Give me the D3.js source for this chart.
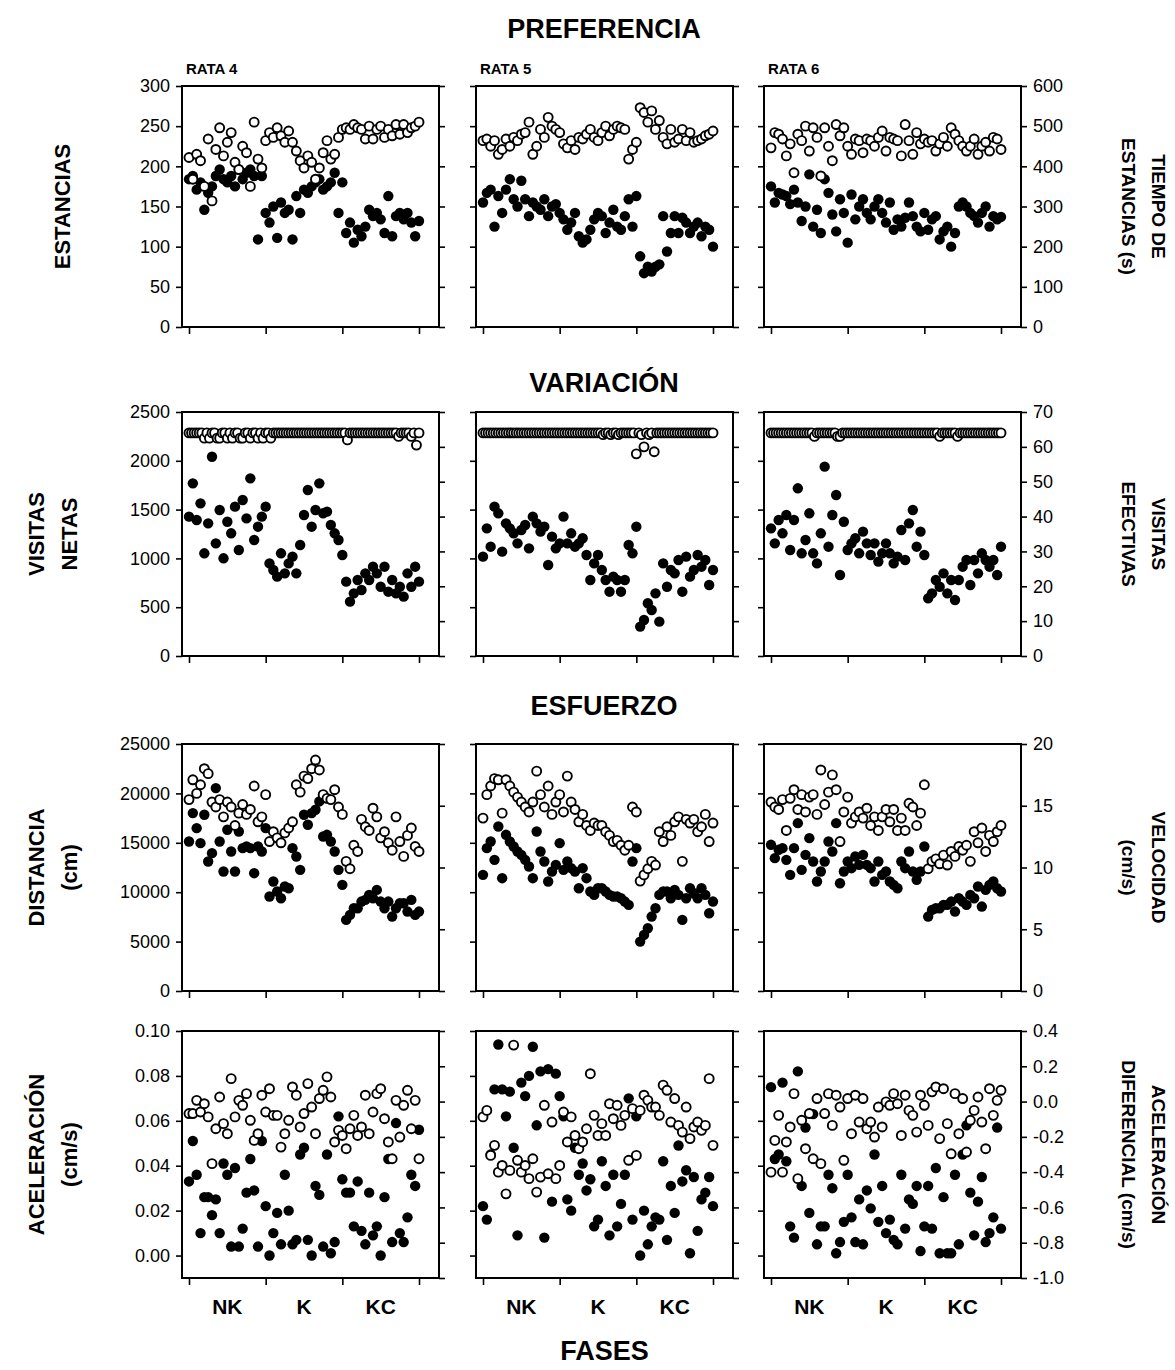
<!DOCTYPE html>
<html>
<head>
<meta charset="utf-8">
<script src="https://cdn.jsdelivr.net/npm/d3@7"></script>
<style>
  body { margin: 0; background: #fff; }
  svg { display: block; }
  text { font-family: Arial, "Liberation Sans", sans-serif; fill: #000; }
</style>
</head>
<body>
<svg id="chart" width="1175" height="1370"></svg>
<script>
// ---------- categories ----------
const ratas = ["RATA 4", "RATA 5", "RATA 6"];
const phases = ["NK", "K", "KC"];
const phaseCenters = [10, 30, 50];
const sessionTicks = [0, 20, 40, 60];

// ---------- PREFERENCIA ----------
// estancias (filled, left axis)
const estancias4 = [184,188,171,180,146,167,175,188,196,184,180,188,175,196,184,192,196,188,109,188,142,130,150,111,155,142,146,109,163,142,171,167,175,180,184,171,175,180,192,142,180,117,130,105,121,113,125,146,138,142,134,117,163,113,138,142,134,142,130,113,132];
const estancias5 = [155,167,171,125,163,142,171,184,159,150,182,159,138,155,150,146,159,138,150,153,142,134,121,130,142,113,105,109,121,134,142,138,117,130,146,125,121,138,159,125,163,88,67,75,69,75,78,138,94,117,138,117,136,130,117,125,130,113,125,121,100];
const estancias6 = [175,155,167,165,163,153,171,155,132,150,190,125,146,117,184,167,140,119,159,142,105,165,134,150,159,142,134,150,159,142,130,155,121,134,125,136,155,138,125,119,142,121,134,138,109,119,125,100,117,150,155,150,142,138,130,142,150,125,138,134,137];
// tiempo de estancias in s (open, right axis)
const tiempo4 = [422,368,430,414,350,468,314,442,496,426,460,484,410,392,450,434,350,510,418,396,464,484,472,496,476,460,488,460,438,414,396,426,410,368,396,434,464,418,430,472,492,496,492,504,496,492,468,500,468,492,500,472,492,476,504,480,504,484,496,500,510];
const tiempo5 = [464,468,450,464,430,442,468,450,472,464,480,484,510,430,450,492,472,522,500,492,484,456,446,464,442,472,468,480,492,472,464,484,500,476,492,500,496,492,418,442,460,546,534,510,538,492,514,472,456,492,460,468,492,464,484,460,464,468,476,480,488];
const tiempo6 = [446,484,480,468,426,456,384,480,464,500,438,496,472,376,496,450,414,504,476,496,450,430,468,464,434,468,464,450,472,488,438,472,468,464,426,504,464,430,484,456,468,460,464,438,456,472,450,496,480,464,450,438,450,468,430,450,460,438,472,468,442];

// ---------- VARIACIÓN ----------
// visitas netas (filled, left axis)
const visitasNetas4 = [1428,1769,1393,1564,1052,1359,2042,1154,1496,1001,1376,1257,1530,1086,1598,1410,1820,1189,1325,1428,1530,949,881,813,1052,847,949,1018,847,1137,1445,1701,1325,1496,1769,1462,1479,1342,1257,1189,1035,762,557,642,779,676,847,779,915,847,710,915,659,779,642,710,608,847,710,915,762];
const visitasNetas5 = [1018,1308,1120,1530,1462,1069,1359,1308,1257,1154,1291,1342,1103,1428,1359,1274,1325,932,1223,1103,1154,1428,1154,1257,1120,1154,1206,1035,779,949,1035,881,779,659,813,779,659,779,1137,1052,1325,301,369,540,471,642,352,949,710,881,847,984,659,1018,813,881,1035,915,984,727,881];
const visitasNetas6 = [1308,1154,1393,1257,1445,1086,1393,1718,1052,1189,1462,1052,949,1257,1940,1120,1445,1650,830,1376,1086,1154,1206,1052,1274,1154,1035,1154,967,1052,1154,1052,949,1018,1291,984,1359,1496,1120,1274,1035,591,642,779,710,847,642,779,574,779,915,984,727,984,847,1052,984,915,984,830,1120];
// visitas efectivas (open, right axis)
const visitasEfectivas4 = [64,64,64,64,64,64,62.5,64,62.5,64,64,62.5,62.5,64,64,62.5,64,62.5,64,64,62.5,62.5,64,64,62.5,64,64,62.5,64,62.5,64,64,62.5,64,64,64,64,64,64,64,64,64,64,64,64,64,64,64,64,64,64,64,64,64,64,64,64,64,64,64,64,64,62,64,64,64,64,64,64,64,64,64,64,64,64,64,64,64,64,64,64,64,63,64,64,64,64,63,64,60.5,64];
const visitasEfectivas5 = [64,64,64,64,64,64,64,64,64,64,64,64,64,64,64,64,64,64,64,64,64,64,64,64,64,64,64,64,64,64,64,64,64,64,64,64,64,64,64,64,64,64,64,64,64,64,64,63.5,64,64,63.5,64,64,63.5,64,64,64,64,64,64,58,64,63.5,60,64,63.5,64,58.6,64,64,64,64,64,64,64,64,64,64,64,64,64,64,64,64,64,64,64,64,64,64,64];
const visitasEfectivas6 = [64,64,64,64,64,64,64,64,64,64,64,64,64,64,64,64,64,63,64,64,64,64,64,64,64,64,63,63,64,64,64,64,64,64,64,64,64,64,64,64,64,64,64,64,64,64,64,64,64,64,64,64,64,64,64,64,64,64,64,64,64,64,64,64,64,64,63,64,64,64,64,64,64,63,64,64,64,64,64,64,64,64,64,64,64,64,64,64,64,64,64];

// ---------- ESFUERZO ----------
// distancia in cm (filled, left axis)
const distancia4 = [15133,18005,16485,14965,17836,13107,13951,20538,15133,12093,16316,14120,12093,16147,14458,14627,14458,11924,14627,14120,16485,9560,11080,10066,9391,10573,10404,14458,13613,12262,17836,16822,18005,18342,19187,15640,15809,15133,14120,12262,10742,7195,7702,8377,8377,9053,9222,9729,9391,10235,9053,8377,9053,7533,8377,8884,8884,8040,9222,7702,8040];
const distancia5 = [11755,14458,15133,13275,16654,11418,15809,15133,14627,14120,13782,13275,12600,11418,16147,14120,13107,11080,12093,12769,14965,12262,13107,12431,12093,10404,12431,11418,10066,9729,10404,10404,10066,9729,9560,9560,9391,9053,8715,13107,14458,4999,5675,6351,7533,8377,9729,10066,10066,9391,10235,9729,7195,9391,10404,9898,9391,10404,9729,7871,9053];
const distancia6 = [14796,13444,14289,14458,13275,11755,14458,16991,12262,13782,15471,13107,11080,12093,13107,15133,14120,16991,10911,12093,13107,12431,13613,12769,13782,12769,12431,11080,13107,11755,12093,11080,10742,10404,13107,12431,14120,12093,11249,12093,14627,7533,8208,8377,8377,8715,8715,9053,8040,9391,9053,8715,9729,9391,10573,8546,10235,10742,11080,10404,10066];
// velocidad in cm/s (open, right axis)
const velocidad4 = [15.5,17.1,16.0,16.7,18.0,17.6,15.3,14.9,15.5,14.1,15.3,14.9,13.4,14.4,15.1,14.3,14.7,16.6,13.7,14.1,15.9,12.1,12.9,12.4,12.0,12.8,13.2,13.7,16.7,16.1,17.4,17.2,18.0,18.7,17.9,15.9,15.6,15.5,16.3,14.9,14.3,10.5,9.9,11.8,11.3,13.9,13.3,13.0,14.8,14.1,12.4,12.9,12.0,11.4,14.1,12.1,10.9,12.6,13.2,11.7,11.3];
const velocidad5 = [14.0,15.9,16.6,17.2,17.1,14.4,17.1,16.6,16.1,15.7,15.3,14.9,14.5,15.3,17.8,15.9,14.9,16.6,14.3,15.3,15.9,14.5,17.4,15.3,14.7,13.7,14.3,13.4,13.0,13.6,13.4,13.4,12.9,12.6,12.1,12.2,11.8,11.4,11.8,14.9,14.5,8.9,9.4,9.9,10.5,10.2,12.9,12.1,13.3,12.6,13.7,14.1,10.5,13.9,13.6,13.9,12.9,13.3,14.3,12.1,13.6];
const velocidad6 = [15.3,14.9,14.7,15.5,13.0,15.6,16.3,14.7,15.9,14.5,15.7,15.9,14.3,17.9,15.1,16.1,17.5,16.3,12.1,14.5,15.7,13.6,14.1,14.5,14.0,14.8,13.4,14.1,13.0,14.1,14.7,13.7,14.7,13.0,14.0,13.0,15.2,14.9,13.4,14.4,16.7,9.9,10.5,10.7,10.3,11.0,10.2,11.3,10.9,11.7,11.4,11.8,10.5,12.9,12.0,13.2,11.3,12.6,12.1,12.9,13.4];

// ---------- ACELERACIÓN ----------
// aceleración in cm/s (filled, left axis)
const aceleracion4 = [0.033,0.051,0.036,0.010,0.026,0.026,0.018,0.025,0.010,0.041,0.036,0.004,0.039,0.004,0.012,0.028,0.043,0.029,0.004,0.051,0.022,0.000,0.010,0.019,0.005,0.036,0.020,0.005,0.007,0.045,0.048,0.007,0.000,0.031,0.027,0.004,0.045,0.001,0.006,0.062,0.034,0.028,0.028,0.013,0.033,0.011,0.005,0.028,0.009,0.013,0.000,0.026,0.043,0.006,0.059,0.010,0.006,0.017,0.036,0.031,0.056];
const aceleracion5 = [0.022,0.016,0.045,0.074,0.094,0.074,0.062,0.073,0.048,0.009,0.077,0.071,0.080,0.093,0.058,0.082,0.008,0.083,0.024,0.081,0.071,0.062,0.025,0.020,0.048,0.036,0.041,0.029,0.034,0.013,0.016,0.042,0.031,0.009,0.036,0.013,0.023,0.036,0.070,0.016,0.062,0.000,0.020,0.005,0.013,0.017,0.016,0.042,0.007,0.031,0.019,0.049,0.033,0.038,0.001,0.035,0.011,0.025,0.028,0.035,0.022];
const aceleracion6 = [0.075,0.043,0.045,0.077,0.042,0.013,0.008,0.082,0.031,0.057,0.019,0.063,0.005,0.013,0.013,0.036,0.030,0.001,0.006,0.015,0.036,0.017,0.006,0.025,0.005,0.029,0.021,0.045,0.015,0.031,0.010,0.016,0.007,0.005,0.036,0.012,0.025,0.023,0.031,0.002,0.013,0.031,0.012,0.039,0.001,0.026,0.001,0.001,0.036,0.005,0.045,0.058,0.028,0.009,0.024,0.035,0.006,0.010,0.017,0.057,0.012];
// aceleración diferencial in cm/s (open, right axis)
const acelDiferencial4 = [-0.068,-0.068,0.007,-0.059,-0.012,-0.087,-0.352,-0.154,0.026,-0.125,-0.182,0.130,-0.087,0.007,-0.021,0.045,-0.106,-0.220,-0.182,0.036,-0.059,0.073,-0.078,-0.078,-0.258,-0.182,-0.106,0.083,0.036,-0.144,-0.068,0.102,-0.031,-0.182,0.017,0.064,0.140,0.026,-0.229,-0.163,-0.192,-0.267,-0.154,-0.078,-0.192,-0.144,0.036,-0.182,-0.059,0.045,0.073,-0.097,-0.229,-0.324,0.007,-0.201,-0.021,0.064,-0.154,0.007,-0.324];
const acelDiferencial5 = [-0.087,-0.050,-0.305,-0.248,-0.400,-0.362,-0.523,-0.390,0.320,-0.333,-0.400,-0.362,-0.437,-0.324,-0.513,-0.428,-0.021,-0.409,-0.116,-0.437,-0.362,-0.059,-0.229,-0.087,-0.192,-0.267,-0.229,-0.154,0.158,-0.078,-0.192,-0.125,-0.192,-0.012,-0.097,-0.021,-0.135,-0.078,-0.333,-0.040,-0.305,-0.050,0.036,0.007,-0.031,-0.031,-0.078,0.093,0.064,-0.116,0.017,-0.135,-0.173,-0.031,-0.210,-0.144,-0.116,-0.163,-0.135,0.130,-0.248];
const acelDiferencial6 = [-0.400,-0.220,-0.078,-0.400,-0.229,-0.144,0.045,-0.437,-0.106,-0.267,-0.068,-0.324,0.017,-0.352,-0.068,0.045,-0.135,0.036,-0.031,-0.333,0.017,-0.182,0.036,-0.116,0.017,-0.154,-0.116,-0.201,-0.031,-0.144,-0.002,-0.021,0.045,-0.012,-0.192,0.036,-0.050,-0.078,-0.173,0.036,-0.021,-0.135,0.055,0.083,-0.210,0.073,-0.125,-0.296,0.045,-0.182,0.017,-0.286,-0.106,-0.050,0.026,-0.116,-0.267,0.073,-0.078,0.007,0.064];

// ---------- tick labels ----------
const ticksEstancias = [0, 50, 100, 150, 200, 250, 300];
const ticksTiempo = [0, 100, 200, 300, 400, 500, 600];
const ticksVisitasNetas = [0, 500, 1000, 1500, 2000, 2500];
const ticksVisitasEfectivas = [0, 10, 20, 30, 40, 50, 60, 70];
const ticksDistancia = [0, 5000, 10000, 15000, 20000, 25000];
const ticksVelocidad = [0, 5, 10, 15, 20];
const ticksAceleracion = [0, 0.02, 0.04, 0.06, 0.08, 0.10];
const ticksAcelDiferencial = [-1.0, -0.8, -0.6, -0.4, -0.2, 0.0, 0.2, 0.4];

// ---------- rows of panels ----------
const rows = [
  { title: "PREFERENCIA", leftLabel: ["ESTANCIAS"], rightLabel: ["TIEMPO DE", "ESTANCIAS (s)"],
    leftDomain: [0, 300], rightDomain: [0, 600], leftTicks: ticksEstancias, rightTicks: ticksTiempo,
    leftFmt: d3.format("d"), rightFmt: d3.format("d"),
    filled: [estancias4, estancias5, estancias6], open: [tiempo4, tiempo5, tiempo6] },
  { title: "VARIACIÓN", leftLabel: ["VISITAS", "NETAS"], rightLabel: ["VISITAS", "EFECTIVAS"],
    leftDomain: [0, 2500], rightDomain: [0, 70], leftTicks: ticksVisitasNetas, rightTicks: ticksVisitasEfectivas,
    leftFmt: d3.format("d"), rightFmt: d3.format("d"),
    filled: [visitasNetas4, visitasNetas5, visitasNetas6], open: [visitasEfectivas4, visitasEfectivas5, visitasEfectivas6] },
  { title: "ESFUERZO", leftLabel: ["DISTANCIA", "(cm)"], rightLabel: ["VELOCIDAD", "(cm/s)"],
    leftDomain: [0, 25000], rightDomain: [0, 20], leftTicks: ticksDistancia, rightTicks: ticksVelocidad,
    leftFmt: d3.format("d"), rightFmt: d3.format("d"),
    filled: [distancia4, distancia5, distancia6], open: [velocidad4, velocidad5, velocidad6] },
  { title: null, leftLabel: ["ACELERACIÓN", "(cm/s)"], rightLabel: ["ACELERACIÓN", "DIFERENCIAL (cm/s)"],
    leftDomain: [-0.01, 0.10], rightDomain: [-1.0, 0.4], leftTicks: ticksAceleracion, rightTicks: ticksAcelDiferencial,
    leftFmt: d3.format(".2f"), rightFmt: d => d3.format(".1f")(d).replace("−", "-"),
    filled: [aceleracion4, aceleracion5, aceleracion6], open: [acelDiferencial4, acelDiferencial5, acelDiferencial6] }
];

// ---------- layout ----------
const panelLeft = [182, 476, 764];
const panelW = 257;
const rowBox = [
  { top: 86, bottom: 327, titleY: 38 },
  { top: 412, bottom: 656, titleY: 392 },
  { top: 744, bottom: 991, titleY: 715 },
  { top: 1031, bottom: 1278, titleY: null }
];
const rFilled = 5.2, rOpen = 4.5;

const svg = d3.select("#chart");
svg.append("rect").attr("width", 1175).attr("height", 1370).attr("fill", "#fff");

function styleAxis(sel, fontSize) {
  sel.select(".domain").remove();
  sel.selectAll(".tick line").attr("stroke", "#000").attr("stroke-width", 1.6);
  sel.selectAll(".tick text").attr("font-size", fontSize).attr("fill", "#000")
     .attr("font-family", "Arial, 'Liberation Sans', sans-serif");
}

rows.forEach((row, ri) => {
  const box = rowBox[ri];
  const midY = (box.top + box.bottom) / 2;

  if (row.title) {
    svg.append("text").attr("x", 604).attr("y", box.titleY)
      .attr("text-anchor", "middle").attr("font-size", 27).attr("font-weight", "bold")
      .text(row.title);
  }

  // left axis title
  const ll = row.leftLabel;
  const lx = ll.length === 1 ? [62] : [36, 69];
  ll.forEach((t, k) => {
    svg.append("text")
      .attr("transform", `translate(${lx[k]},${midY}) rotate(-90)`)
      .attr("text-anchor", "middle").attr("dominant-baseline", "central")
      .attr("font-size", 22).attr("font-weight", "bold").text(t);
  });
  // right axis title
  const rx = [1158, 1128];
  row.rightLabel.forEach((t, k) => {
    svg.append("text")
      .attr("transform", `translate(${rx[k]},${midY}) rotate(90)`)
      .attr("text-anchor", "middle").attr("dominant-baseline", "central")
      .attr("font-size", 19).attr("font-weight", "bold").text(t);
  });

  ratas.forEach((rata, c) => {
    const left = panelLeft[c], right = left + panelW;
    const g = svg.append("g");
    const x = d3.scaleLinear().domain([0, 60]).range([left + 7, left + 237]);
    const yL = d3.scaleLinear().domain(row.leftDomain).range([box.bottom, box.top]);
    const yR = d3.scaleLinear().domain(row.rightDomain).range([box.bottom, box.top]);

    if (ri === 0) {
      svg.append("text").attr("x", left + 4).attr("y", 74)
        .attr("font-size", 15).attr("font-weight", "bold").text(rata);
    }

    // axes with outward ticks on every side but the top
    g.append("g").attr("transform", `translate(${left},0)`)
      .call(d3.axisLeft(yL).tickValues(row.leftTicks).tickSize(6).tickPadding(6)
        .tickFormat(c === 0 ? row.leftFmt : () => ""))
      .call(s => styleAxis(s, 18));
    g.append("g").attr("transform", `translate(${right},0)`)
      .call(d3.axisRight(yR).tickValues(row.rightTicks).tickSize(6).tickPadding(6)
        .tickFormat(c === 2 ? row.rightFmt : () => ""))
      .call(s => styleAxis(s, 18));
    g.append("g").attr("transform", `translate(0,${box.bottom})`)
      .call(d3.axisBottom(x).tickValues(sessionTicks).tickSize(7).tickFormat(() => ""))
      .call(s => styleAxis(s, 18));

    // frame
    g.append("rect").attr("x", left).attr("y", box.top)
      .attr("width", panelW).attr("height", box.bottom - box.top)
      .attr("fill", "none").attr("stroke", "#000").attr("stroke-width", 2);

    // filled series
    const fData = row.filled[c];
    const fx = d3.scaleLinear().domain([0, fData.length - 1]).range([0, 60]);
    g.append("g").selectAll("circle").data(fData).join("circle")
      .attr("cx", (d, i) => x(fx(i))).attr("cy", d => yL(d)).attr("r", rFilled)
      .attr("fill", "#000");

    // open series
    const oData = row.open[c];
    const ox = d3.scaleLinear().domain([0, oData.length - 1]).range([0, 60]);
    g.append("g").selectAll("circle").data(oData).join("circle")
      .attr("cx", (d, i) => x(ox(i))).attr("cy", d => yR(d)).attr("r", rOpen)
      .attr("fill", "#fff").attr("stroke", "#000").attr("stroke-width", 1.9);

    // phase labels under the last row
    if (ri === rows.length - 1) {
      phases.forEach((p, k) => {
        svg.append("text").attr("x", x(phaseCenters[k])).attr("y", box.bottom + 36)
          .attr("text-anchor", "middle").attr("font-size", 21).attr("font-weight", "bold").text(p);
      });
      if (c === 1) {
        svg.append("text").attr("x", left + panelW / 2).attr("y", box.bottom + 82)
          .attr("text-anchor", "middle").attr("font-size", 27).attr("font-weight", "bold").text("FASES");
      }
    }
  });
});
</script>
</body>
</html>
